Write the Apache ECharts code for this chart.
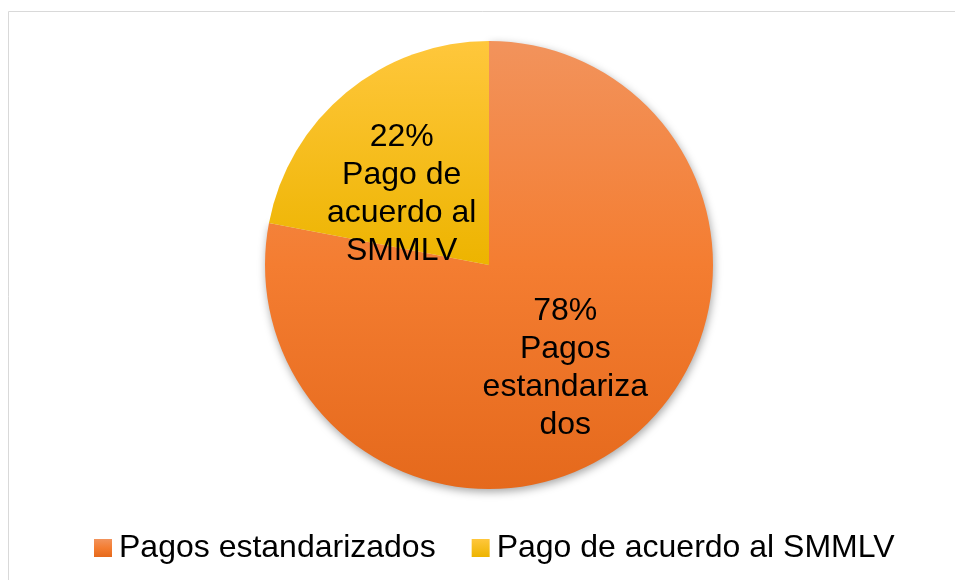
<!DOCTYPE html>
<html>
<head>
<meta charset="utf-8">
<script src="https://cdn.jsdelivr.net/npm/echarts@6/dist/echarts.min.js"></script>
<style>
    html, body { margin: 0; padding: 0; background: #fff; }
    #chart1 { width: 955px; height: 580px; }
</style>
</head>
<body>
<div id="chart1"></div>
<script>
// valores
let categories = ['Pagos estandarizados', 'Pago de acuerdo al SMMLV'];
let values = [78, 22];
let sliceLabels = ['Pagos\nestandariza\ndos', 'Pago de\nacuerdo al\nSMMLV'];

let dom1 = document.getElementById("chart1");
let Chart1 = echarts.init(dom1);

let colors = [
    new echarts.graphic.LinearGradient(0, 0, 0, 1, [
        { offset: 0, color: '#F2935C' },
        { offset: 0.5, color: '#F47D31' },
        { offset: 1, color: '#E5691C' }
    ]),
    new echarts.graphic.LinearGradient(0, 0, 0, 1, [
        { offset: 0, color: '#FFC73C' },
        { offset: 1, color: '#EDB400' }
    ])
];

let pieData = categories.map(function (name, i) {
    let item = {
        name: name,
        value: values[i],
        itemStyle: { color: colors[i] }
    };
    if (i === 0) {
        item.itemStyle.shadowBlur = 8;
        item.itemStyle.shadowOffsetX = 1;
        item.itemStyle.shadowOffsetY = 3;
        item.itemStyle.shadowColor = 'rgba(0,0,0,0.35)';
    }
    return item;
});

let option1 = {
    animation: false,
    graphic: [{
        type: 'rect',
        silent: true,
        shape: { x: 8.5, y: 11.5, width: 960, height: 600 },
        style: { fill: 'none', stroke: '#d9d9d9', lineWidth: 1 }
    }],
    legend: {
        data: categories,
        left: 89,
        top: 527,
        icon: 'rect',
        itemWidth: 18,
        itemHeight: 18,
        itemGap: 36,
        itemStyle: { borderWidth: 0 },
        textStyle: {
            fontFamily: 'Liberation Sans, Arial, sans-serif',
            fontSize: 32,
            color: '#000',
            padding: [0, 0, 0, 2]
        }
    },
    series: [
        {
            name: 'pagos',
            type: 'pie',
            center: [489, 265],
            radius: 224,
            startAngle: 90,
            clockwise: true,
            silent: true,
            label: {
                show: true,
                position: 'inside',
                fontFamily: 'Liberation Sans, Arial, sans-serif',
                fontSize: 32,
                lineHeight: 38,
                color: '#000',
                align: 'center',
                formatter: function (p) {
                    return p.value + '%\n' + sliceLabels[p.dataIndex];
                }
            },
            labelLine: { show: false },
            labelLayout: function (params) {
                if (params.dataIndex === 0) {
                    return { dx: 3, dy: 15 };
                }
                return { dx: -14, dy: 18 };
            },
            data: pieData
        }
    ]
};

Chart1.setOption(option1);
</script>
</body>
</html>
